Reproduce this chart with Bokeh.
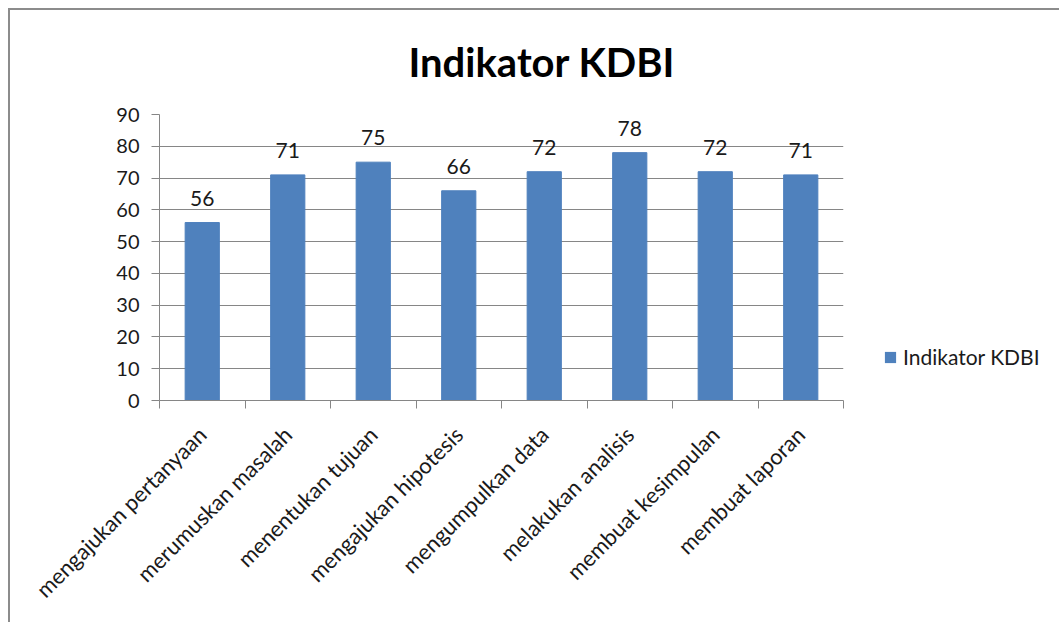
from math import pi
from bokeh.plotting import figure
from bokeh.layouts import row
from bokeh.core.properties import value
from bokeh.models import (Range1d, FixedTicker, CustomJSTickFormatter,
                          ColumnDataSource, LabelSet, Legend, LegendItem)
from bokeh.embed import file_html
from bokeh.resources import INLINE

# ---- data ----
categories = ["mengajukan pertanyaan", "merumuskan masalah", "menentukan tujuan",
              "mengajukan hipotesis", "mengumpulkan data", "melakukan analisis",
              "membuat kesimpulan", "membuat laporan"]
values = [56, 71, 75, 66, 72, 78, 72, 71]
y_ticks = [0, 10, 20, 30, 40, 50, 60, 70, 80, 90]
series_name = "Indikator KDBI"
title_text = "Indikator KDBI"

FONT = "Lato"
BAR = "#4F81BD"
GRID = "#868686"
TXT = "#1a1a1a"
H = 612

n = len(categories)
centers = [i + 0.5 for i in range(n)]
bounds = list(range(n + 1))
src = ColumnDataSource(dict(x=centers, cat=categories, val=values,
                            lbl=[str(v) for v in values]))

p = figure(width=835, height=H,
           x_range=Range1d(0, n),
           y_range=Range1d(y_ticks[0], y_ticks[-1]),
           output_backend="svg", toolbar_location=None,
           min_border_left=149, min_border_right=2,
           min_border_top=103, min_border_bottom=222)
p.outline_line_color = None
p.background_fill_color = "white"
p.border_fill_color = "white"

bars = p.vbar(x="x", top="val", width=0.4, source=src,
              fill_color=BAR, line_color=BAR)

# title
p.title.text = title_text
p.title.align = "left"
p.title.vertical_align = "top"
p.title.offset = 249
p.title.standoff = 54
p.title.text_font = FONT
p.title.text_font_style = "bold"
p.title.text_font_size = "40px"
p.title.text_color = "black"

# grid
p.xgrid.visible = False
p.ygrid.grid_line_color = GRID
p.ygrid.grid_line_width = 1

# y axis
ya = p.yaxis[0]
ya.ticker = FixedTicker(ticks=y_ticks)
ya.axis_line_color = GRID
ya.major_tick_line_color = GRID
ya.minor_tick_line_color = None
ya.major_tick_in = 0
ya.major_tick_out = 8
ya.major_label_standoff = 12
ya.major_label_text_font = FONT
ya.major_label_text_font_size = "20px"
ya.major_label_text_color = TXT

# x axis: labels at category centres, tick marks at category boundaries
xa = p.xaxis[0]
xa.ticker = FixedTicker(ticks=centers, minor_ticks=bounds)
xa.formatter = CustomJSTickFormatter(args=dict(cats=categories),
                                     code="return cats[Math.round(tick - 0.5)];")
xa.axis_line_color = GRID
xa.major_tick_line_color = None
xa.minor_tick_line_color = GRID
xa.minor_tick_in = 0
xa.minor_tick_out = 8
xa.major_label_orientation = pi / 4
xa.major_label_standoff = 22
xa.major_label_text_font = FONT
xa.major_label_text_font_size = "22px"
xa.major_label_text_color = TXT

# value labels
p.add_layout(LabelSet(x="x", y="val", text="lbl", source=src, y_offset=17,
                      text_align="center", text_baseline="alphabetic",
                      text_font=value(FONT), text_font_size="21px", text_color=TXT))

# legend panel (a separate, axis-less figure to the right of the plot area;
# its frame is aligned with the main plot's frame by the row layout)
pl = figure(width=214, height=H, output_backend="svg", toolbar_location=None,
            x_axis_location=None, y_axis_location=None,
            min_border_left=0, min_border_right=0, min_border_top=0, min_border_bottom=0)
pl.grid.visible = False
pl.outline_line_color = None
pl.background_fill_color = "white"
pl.border_fill_color = "white"
# zero-size legend proxy (only its legend swatch is seen)
proxy = pl.vbar(x=[0], top=[0], width=0, fill_color=BAR, line_color=None)
legend = Legend(items=[LegendItem(label=series_name, renderers=[proxy])],
                location=(38, 31), glyph_width=14, glyph_height=14,
                label_text_font=FONT, label_text_font_size="21px",
                label_text_color=TXT, label_standoff=6,
                border_line_color=None, background_fill_alpha=0,
                padding=0, margin=0)
pl.add_layout(legend, "center")

layout = row(p, pl)
layout.styles = {"margin-top": "8px", "margin-left": "8px",
                 "border-top": "2px solid #8c8c8c", "border-left": "2px solid #8c8c8c"}

open("out.html", "w").write(file_html(layout, INLINE))
